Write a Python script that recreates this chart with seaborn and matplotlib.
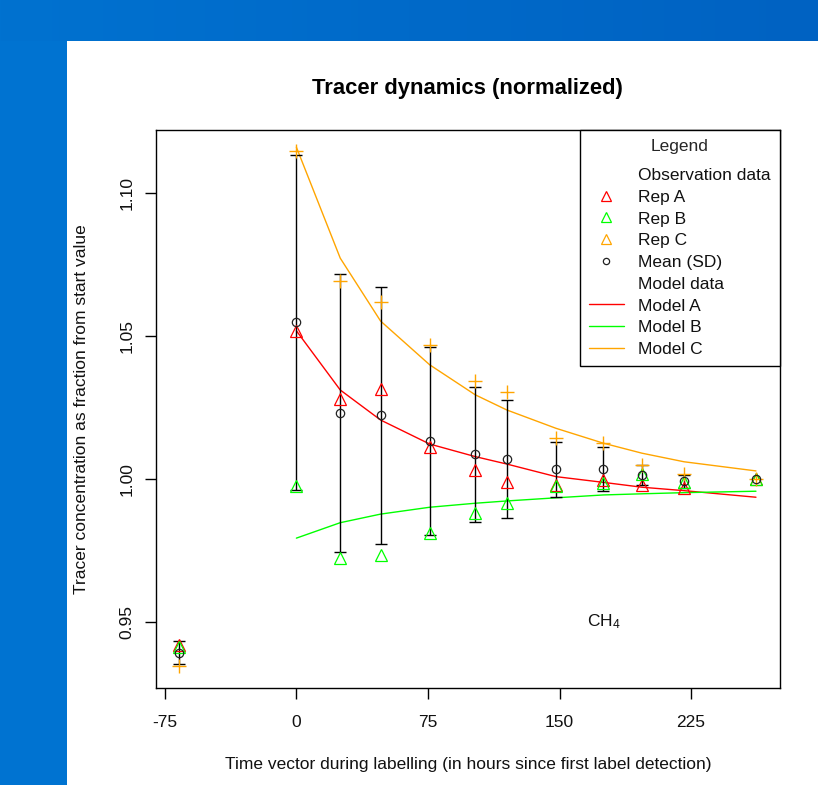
import numpy as np
import pandas as pd
import matplotlib
matplotlib.use("Agg")
import matplotlib.pyplot as plt
import seaborn as sns
from matplotlib.lines import Line2D
from matplotlib.patches import Rectangle

# ---------------- data ----------------
obs_time = [-67, 0, 25, 48, 76, 102, 120, 148, 175, 197, 221, 262]
rep_a = [0.9418, 1.0518, 1.0279, 1.0316, 1.0113, 1.0031, 0.9988, 0.9980, 0.9995, 0.9978, 0.9970, 1.0000]
rep_b = [0.9412, 0.9976, 0.9723, 0.9734, 0.9812, 0.9882, 0.9916, 0.9976, 0.9985, 1.0017, 0.9988, 1.0000]
rep_c = [0.9347, 1.1148, 1.0692, 1.0617, 1.0470, 1.0344, 1.0303, 1.0144, 1.0125, 1.0048, 1.0017, 1.0000]

model_time = [0, 25, 48, 76, 102, 120, 148, 175, 197, 221, 262]
model_a = [1.0518, 1.0311, 1.0206, 1.0122, 1.0078, 1.0052, 1.0008, 0.9988, 0.9971, 0.9959, 0.9936]
model_b = [0.9793, 0.9847, 0.9877, 0.9901, 0.9915, 0.9923, 0.9934, 0.9944, 0.9948, 0.9952, 0.9957]
model_c = [1.1160, 1.0772, 1.0552, 1.0399, 1.0294, 1.0241, 1.0177, 1.0125, 1.0090, 1.0060, 1.0028]

x_ticks = [-75, 0, 75, 150, 225]
y_ticks = [0.95, 1.00, 1.05, 1.10]

title = "Tracer dynamics (normalized)"
x_label = "Time vector during labelling (in hours since first label detection)"
y_label = "Tracer concentration as fraction from start value"

# ---------------- style ----------------
sns.set_style("white")
plt.rcParams["font.family"] = ["Liberation Sans", "DejaVu Sans"]
plt.rcParams["mathtext.default"] = "regular"

RED, GREEN, ORANGE = "#FF0000", "#00FF00", "#FFA500"
FS = 12.5

W, H = 818, 785
fig = plt.figure(figsize=(W / 100, H / 100), dpi=100)
fig.patch.set_facecolor("#0073D1")
# white slide panel
fig.patches.append(Rectangle((67 / W, 0), 1 - 67 / W, 744 / H, transform=fig.transFigure,
                             facecolor="white", edgecolor="none", zorder=-2))
# top blue band with slight gradient
grad = np.linspace(0, 1, W)[None, :, None]
c0 = np.array([0x00, 0x72, 0xD0]) / 255
c1 = np.array([0x00, 0x62, 0xC2]) / 255
band = np.repeat(c0 * (1 - grad) + c1 * grad, 41, axis=0)
fig.figimage(band, xo=0, yo=H - 41, zorder=-1)

left, right, top, bottom = 155.7, 780, 130, 688
ax = fig.add_axes([left / W, 1 - bottom / H, (right - left) / W, (bottom - top) / H])
ax.set_facecolor("white")

df_obs = pd.DataFrame({"time": obs_time, "A": rep_a, "B": rep_b, "C": rep_c})
reps = df_obs[["A", "B", "C"]].to_numpy()
df_obs["mean"] = reps.mean(axis=1)
df_obs["sd"] = reps.std(axis=1, ddof=1)

df_mod = pd.DataFrame({"time": model_time, "A": model_a, "B": model_b, "C": model_c})

# model lines
for col, c in [("A", RED), ("B", GREEN), ("C", ORANGE)]:
    sns.lineplot(data=df_mod, x="time", y=col, color=c, lw=1.0, ax=ax, zorder=2)

# error bars (mean +/- SD)
eb = df_obs[df_obs["sd"] > 0]
ax.errorbar(eb["time"], eb["mean"], yerr=eb["sd"], fmt="none", ecolor="black",
            elinewidth=1.0, capsize=4.4, capthick=1.0, zorder=3)

# observations
sns.lineplot(data=df_obs, x="time", y="A", ax=ax, color=RED, linestyle="none", marker="^",
             markersize=8.8, markerfacecolor="none", markeredgecolor=RED, markeredgewidth=0.9, zorder=4)
sns.lineplot(data=df_obs, x="time", y="B", ax=ax, color=GREEN, linestyle="none", marker="^",
             markersize=8.8, markerfacecolor="none", markeredgecolor=GREEN, markeredgewidth=0.9, zorder=4)
sns.lineplot(data=df_obs, x="time", y="C", ax=ax, color=ORANGE, linestyle="none", marker="+",
             markersize=10, markeredgecolor=ORANGE, markeredgewidth=1.0, zorder=4)
sns.lineplot(data=df_obs, x="time", y="mean", ax=ax, color="#222222", linestyle="none", marker="o",
             markersize=6, markerfacecolor="none", markeredgecolor="#222222", markeredgewidth=0.9, zorder=5)

ax.set_xlim(-80.2, 275.7)
ax.set_ylim(0.9269, 1.1220)
ax.set_xticks(x_ticks)
ax.set_xticklabels([str(t) for t in x_ticks])
ax.set_yticks(y_ticks)
ax.set_yticklabels([f"{t:.2f}" for t in y_ticks], rotation=90, va="center")

ax.tick_params(axis="both", direction="out", length=8, width=1, color="black",
               labelsize=FS, labelcolor="#111111", bottom=True, left=True)
ax.tick_params(axis="x", pad=11.5)
ax.tick_params(axis="y", pad=7)
for s in ax.spines.values():
    s.set_visible(True)
    s.set_color("black")
    s.set_linewidth(1.0)

ax.set_xlabel(x_label, fontsize=FS, color="#111111")
ax.set_ylabel(y_label, fontsize=FS, color="#111111")
ax.xaxis.set_label_coords(0.5, (bottom - 765) / (bottom - top))
ax.xaxis.label.set_va("center")
ax.yaxis.set_label_coords((82 - left) / (right - left), 0.5)
ax.yaxis.label.set_va("center")

fig.text((left + right) / 2 / W, 1 - 88.5 / H, title, ha="center", va="center",
         fontsize=15.8, fontweight="bold", color="black")

ax.text(175, 0.95, "CH$_4$", ha="center", va="center", fontsize=FS, color="#111111")

# legend
blank = Line2D([], [], color="none")
handles = [
    blank,
    Line2D([], [], ls="none", marker="^", ms=6.5, mfc="none", mec=RED, mew=0.9),
    Line2D([], [], ls="none", marker="^", ms=6.5, mfc="none", mec=GREEN, mew=0.9),
    Line2D([], [], ls="none", marker="^", ms=6.5, mfc="none", mec=ORANGE, mew=0.9),
    Line2D([], [], ls="none", marker="o", ms=4.5, mfc="none", mec="#222222", mew=0.9),
    blank,
    Line2D([], [], color=RED, lw=1.0),
    Line2D([], [], color=GREEN, lw=1.0),
    Line2D([], [], color=ORANGE, lw=1.0),
]
labels = ["Observation data", "Rep A", "Rep B", "Rep C", "Mean (SD)",
          "Model data", "Model A", "Model B", "Model C"]
leg = ax.legend(handles, labels, title="Legend", loc="upper right", borderaxespad=0,
                frameon=True, fancybox=False, framealpha=1, edgecolor="black",
                fontsize=FS, title_fontsize=FS, handlelength=2.0, handletextpad=0.85,
                labelspacing=0.38, borderpad=0.52)
leg.get_frame().set_linewidth(1.0)
leg._legend_box.sep = 10
for t in leg.get_texts():
    t.set_color("#111111")

fig.savefig("out.png", dpi=100, facecolor=fig.get_facecolor())
